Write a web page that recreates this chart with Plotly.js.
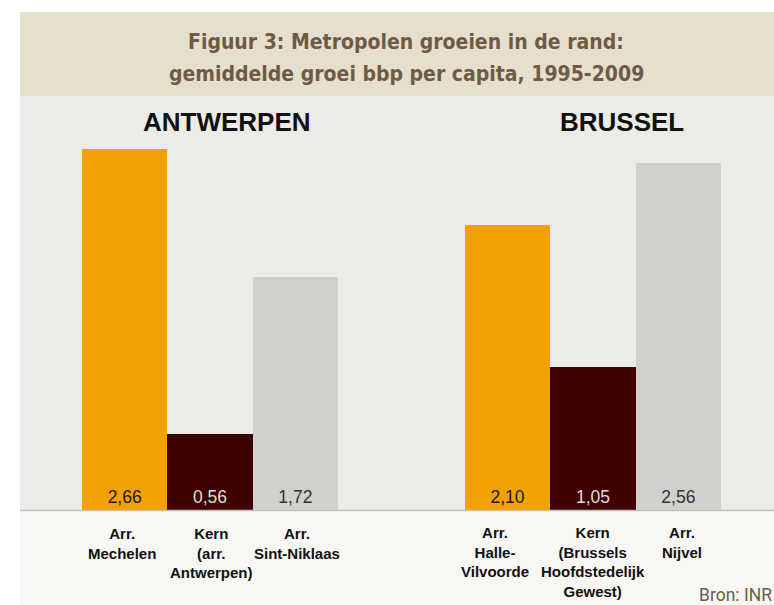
<!DOCTYPE html>
<html>
<head>
<meta charset="utf-8">
<script src="https://cdn.plot.ly/plotly-3.0.1.min.js"></script>
<style>html,body{margin:0;padding:0;background:#fff;}#chart{width:774px;height:605px;}</style>
</head>
<body>
<div id="chart"></div>
<script>
// Data
const antwerpenLabels = ["Arr.<br>Mechelen", "Kern<br>(arr.<br>Antwerpen)", "Arr.<br>Sint-Niklaas"];
const antwerpenValues = [2.66, 0.56, 1.72];
const brusselLabels = ["Arr.<br>Halle-<br>Vilvoorde", "Kern<br>(Brussels<br>Hoofdstedelijk<br>Gewest)", "Arr.<br>Nijvel"];
const brusselValues = [2.10, 1.05, 2.56];
const barColors = ["#f2a100", "#3f0000", "#d1d0cc"];
const valueTextColors = ["#1a1a1a", "#dcdcdc", "#333333"];
const titleLines = ["Figuur 3: Metropolen groeien in de rand:", "gemiddelde groei bbp per capita, 1995-2009"];
const groupTitles = ["ANTWERPEN", "BRUSSEL"];
const sourceText = "Bron: INR";

// label horizontal nudges (style)
const antwerpenLabelShift = [-3, 1, 2];
const brusselLabelShift = [-13, 0, 4];

const fmt = v => v.toFixed(2).replace('.', ',');
const W = 774, H = 605;
const px = x => x / W;
const py = y => 1 - y / H;

const valueFont = {family: 'Liberation Sans, Arial, sans-serif', size: 17.5, color: valueTextColors};

const traces = [
  {
    type: 'bar', x: antwerpenLabels, y: antwerpenValues, xaxis: 'x', yaxis: 'y',
    marker: {color: barColors, line: {width: 0}},
    text: antwerpenValues.map(fmt), textposition: 'inside', insidetextanchor: 'start',
    textfont: valueFont, constraintext: 'none', hoverinfo: 'none', showlegend: false
  },
  {
    type: 'bar', x: brusselLabels, y: brusselValues, xaxis: 'x2', yaxis: 'y',
    marker: {color: barColors, line: {width: 0}},
    text: brusselValues.map(fmt), textposition: 'inside', insidetextanchor: 'start',
    textfont: valueFont, constraintext: 'none', hoverinfo: 'none', showlegend: false
  }
];

const labelFont = {family: 'Liberation Sans, Arial, sans-serif', size: 15, color: '#111111', weight: 'bold'};

const catAnnotations = [];
antwerpenLabels.forEach((lab, i) => catAnnotations.push({
  xref: 'x', yref: 'y', x: lab, y: 0, text: lab, showarrow: false, xanchor: 'center', yanchor: 'top',
  align: 'center', yshift: -13, xshift: antwerpenLabelShift[i], font: labelFont
}));
brusselLabels.forEach((lab, i) => catAnnotations.push({
  xref: 'x2', yref: 'y', x: lab, y: 0, text: lab, showarrow: false, xanchor: 'center', yanchor: 'top',
  align: 'center', yshift: -12, xshift: brusselLabelShift[i], font: labelFont
}));

const layout = {
  width: W, height: H,
  margin: {l: 0, r: 0, t: 0, b: 0},
  paper_bgcolor: '#ffffff',
  plot_bgcolor: 'rgba(0,0,0,0)',
  bargap: 0,
  font: {family: 'Liberation Sans, Arial, sans-serif'},
  xaxis: {
    domain: [px(82), px(338)], anchor: 'y', type: 'category', range: [-0.5, 2.5], autorange: false,
    showgrid: false, zeroline: false, showline: false, ticks: '', showticklabels: false, fixedrange: true
  },
  xaxis2: {
    domain: [px(465), px(721)], anchor: 'y', type: 'category', range: [-0.5, 2.5], autorange: false,
    showgrid: false, zeroline: false, showline: false, ticks: '', showticklabels: false, fixedrange: true
  },
  yaxis: {
    domain: [py(510), py(96)], range: [0, 3.05], autorange: false, anchor: 'x',
    visible: false, showgrid: false, zeroline: false, fixedrange: true
  },
  shapes: [
    {type: 'rect', xref: 'paper', yref: 'paper', x0: px(20), x1: 1, y0: py(96), y1: py(12), fillcolor: '#e7dfcd', line: {width: 0}, layer: 'below'},
    {type: 'rect', xref: 'paper', yref: 'paper', x0: px(20), x1: 1, y0: py(510), y1: py(96), fillcolor: '#ecebe7', line: {width: 0}, layer: 'below'},
    {type: 'rect', xref: 'paper', yref: 'paper', x0: px(20), x1: 1, y0: 0, y1: py(510), fillcolor: '#f8f7f4', line: {width: 0}, layer: 'below'},
    {type: 'line', xref: 'paper', yref: 'paper', x0: px(20), x1: 1, y0: py(510.5), y1: py(510.5), line: {color: '#c4c2be', width: 1.5}, layer: 'above'}
  ],
  annotations: [
    {xref: 'paper', yref: 'paper', x: px(406), y: py(42), text: '<b>' + titleLines[0] + '</b>', showarrow: false,
     xanchor: 'center', yanchor: 'middle', font: {family: 'DejaVu Sans Condensed, Liberation Sans, sans-serif', size: 21, color: '#6e5b45'}},
    {xref: 'paper', yref: 'paper', x: px(406), y: py(74), text: '<b>' + titleLines[1] + '</b>', showarrow: false,
     xanchor: 'center', yanchor: 'middle', font: {family: 'DejaVu Sans Condensed, Liberation Sans, sans-serif', size: 21, color: '#6e5b45'}},
    {xref: 'paper', yref: 'paper', x: px(227), y: py(122), text: '<b>' + groupTitles[0] + '</b>', showarrow: false,
     xanchor: 'center', yanchor: 'middle', font: {family: 'Liberation Sans, Arial, sans-serif', size: 26, color: '#111111'}},
    {xref: 'paper', yref: 'paper', x: px(622), y: py(122), text: '<b>' + groupTitles[1] + '</b>', showarrow: false,
     xanchor: 'center', yanchor: 'middle', font: {family: 'Liberation Sans, Arial, sans-serif', size: 26, color: '#111111'}},
    {xref: 'paper', yref: 'paper', x: 1, y: py(595), text: sourceText, showarrow: false,
     xanchor: 'right', yanchor: 'middle', font: {family: 'Roboto, Liberation Sans, sans-serif', size: 17.5, color: '#6e5b45'}}
  ].concat(catAnnotations)
};

Plotly.newPlot('chart', traces, layout, {displayModeBar: false, staticPlot: true});
</script>
</body>
</html>
